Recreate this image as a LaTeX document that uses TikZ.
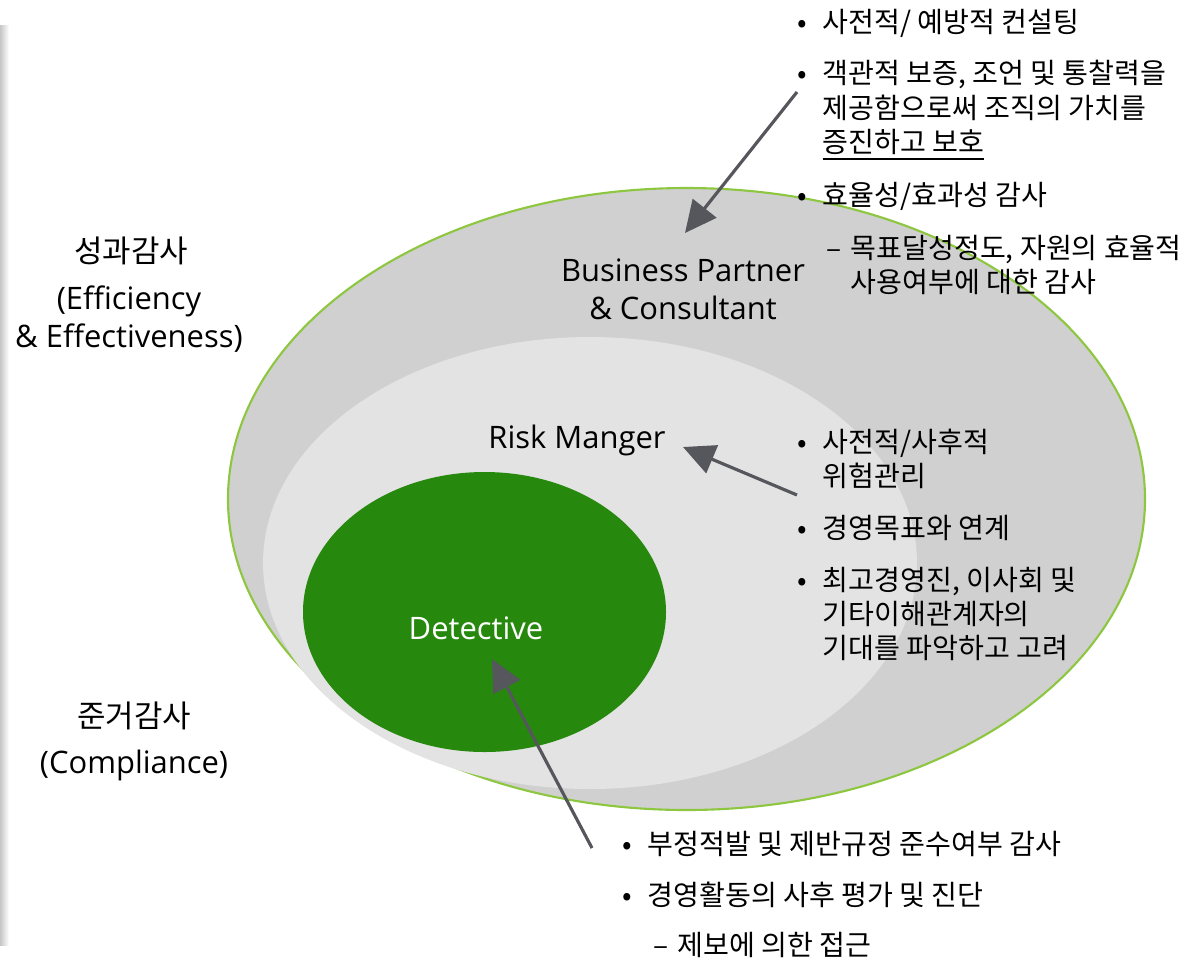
\documentclass[tikz,border=0pt]{standalone}
\usepackage{fontspec}
\setmainfont{Open Sans}
\newfontfamily\kr{Noto Sans CJK KR}
\usetikzlibrary{arrows.meta}

\definecolor{ringgreen}{RGB}{141,198,63}
\definecolor{outergray}{RGB}{208,208,208}
\definecolor{innergray}{RGB}{227,227,227}
\definecolor{detgreen}{RGB}{38,137,13}
\definecolor{arrgray}{RGB}{85,87,92}

\tikzset{
  lbl/.style={font=\fontsize{8.8pt}{10.8pt}\selectfont, inner sep=0, anchor=base},
  klbl/.style={font=\kr\fontsize{8.8pt}{10pt}\selectfont, inner sep=0, anchor=base},
  item/.style={font=\kr\fontsize{8pt}{9.67pt}\selectfont, inner sep=0, anchor=base west, align=left},
  pointer/.style={draw=arrgray, line width=0.9pt, -{Triangle[length=9pt,width=8.5pt]}}
}
\newcommand{\bul}{\llap{•\hspace{4.5pt}}}
\newcommand{\sub}{\llap{–\hspace{2.5pt}}}

\begin{document}
\begin{tikzpicture}[x=0.01cm,y=-0.01cm]
  \useasboundingbox (0,0) rectangle (1191,960);

  % slide edge shadow
  \shade[left color=gray!45, right color=white] (0,25) rectangle (9,945);

  % three levels
  \filldraw[fill=outergray, draw=ringgreen, line width=0.6pt] (686.5,499) ellipse [x radius=458.5, y radius=311];
  \fill[innergray] (590,563) ellipse [x radius=327, y radius=226];
  \fill[detgreen] (484.5,612) ellipse [x radius=181.5, y radius=140];

  \node[lbl] (bp1) at (683,281) {Business Partner};
  \node[lbl] (bp2) at (683,319) {\& Consultant};
  \node[lbl] (risk) at (577,448) {Risk Manger};
  \node[lbl, text=white] (det) at (476,639) {Detective};

  % left labels
  \node[klbl] (perf) at (131,262) {성과감사};
  \node[lbl] (perf1) at (129,309) {(Efficiency};
  \node[lbl] (perf2) at (129,347) {\& Effectiveness)};
  \node[klbl] (comp) at (134,727) {준거감사};
  \node[lbl] (comp1) at (134,773) {(Compliance)};

  % business partner (base = last line)
  \node[item] (t1) at (822,32) {\bul 사전적/ 예방적 컨설팅};
  \node[item] (t2) at (822,152) {\bul 객관적 보증, 조언 및 통찰력을\\제공함으로써 조직의 가치를\\\underline{증진하고 보호}};
  \node[item] (t3) at (822,205) {\bul 효율성/효과성 감사};
  \node[item] (t4) at (850,292) {\sub 목표달성정도, 자원의 효율적\\사용여부에 대한 감사};

  % risk manager
  \node[item] (m1) at (822,486) {\bul 사전적/사후적\\위험관리};
  \node[item] (m2) at (822,538) {\bul 경영목표와 연계};
  \node[item] (m3) at (822,658) {\bul 최고경영진, 이사회 및\\기타이해관계자의\\기대를 파악하고 고려};

  % detective
  \node[item] (d1) at (647,854) {\bul 부정적발 및 제반규정 준수여부 감사};
  \node[item] (d2) at (647,905) {\bul 경영활동의 사후 평가 및 진단};
  \node[item] (d3) at (677,955) {\sub 제보에 의한 접근};

  % arrows
  \coordinate (bpTail) at (797,92);
  \coordinate (bpTip) at (685,233);
  \coordinate (rmTail) at (797,495);
  \coordinate (rmTip) at (683,447);
  \coordinate (dtTail) at (592,848);
  \coordinate (dtTip) at (492,659);
  \draw[pointer] (bpTail) -- (bpTip);
  \draw[pointer] (rmTail) -- (rmTip);
  \draw[pointer] (dtTail) -- (dtTip);
\end{tikzpicture}
\end{document}
